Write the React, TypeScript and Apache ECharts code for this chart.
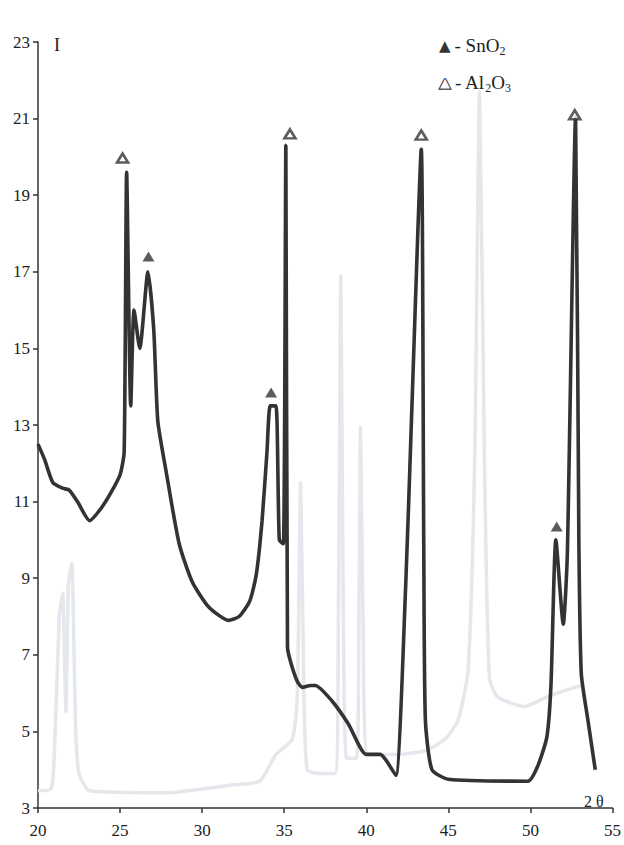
import React, { useEffect, useRef } from "react";
import * as echarts from "echarts";

// 2θ (degrees) and intensity I for the measured XRD pattern
const mainTwoTheta = [
  20.0, 20.4, 20.9, 21.5, 21.9, 22.4, 23.15, 23.8, 24.4, 25.0, 25.25, 25.4, 25.65, 25.85, 26.2, 26.7,
  27.05, 27.3, 27.8, 28.6, 29.4, 30.4, 31.6, 32.25, 32.9, 33.3, 33.65, 33.95, 34.15, 34.5, 34.7, 34.95,
  35.1, 35.2, 35.4, 35.8, 36.1, 36.6, 36.9, 37.9, 38.9, 40.0, 40.85, 41.2, 41.8, 42.4, 42.75, 43.35,
  43.5, 43.6, 44.0, 45.0, 49.85, 50.45, 51.0, 51.25, 51.55, 52.0, 52.25, 52.75, 52.95, 53.1, 53.5, 53.95,
];
const mainIntensity = [
  12.5, 12.1, 11.5, 11.35, 11.3, 11.0, 10.5, 10.8, 11.2, 11.7, 12.3, 19.6, 13.5, 16.0, 15.0, 17.0,
  15.5, 13.1, 11.8, 9.9, 8.9, 8.25, 7.9, 8.0, 8.4, 9.1, 10.5, 12.3, 13.5, 13.5, 10.0, 9.9,
  20.3, 7.2, 6.8, 6.3, 6.15, 6.2, 6.2, 5.8, 5.2, 4.4, 4.4, 4.25, 3.85, 8.8, 13.1, 20.2,
  10.0, 5.3, 4.0, 3.75, 3.7, 4.1, 4.85, 6.2, 10.0, 7.8, 9.65, 21.05, 10.0, 6.5, 5.3, 4.0,
];

// faint show-through pattern from the reverse side of the scanned page
const ghostTwoTheta = [
  20.0, 20.8, 21.0, 21.3, 21.5, 21.7, 21.85, 22.05, 22.3, 22.5, 23.15, 27.8, 31.8, 33.5, 34.5, 35.5,
  35.8, 36.0, 36.2, 36.4, 37.1, 38.1, 38.3, 38.45, 38.6, 38.8, 39.4, 39.55, 39.65, 39.8, 40.1, 42.0,
  43.6, 44.8, 45.6, 46.2, 46.6, 46.9, 47.2, 47.5, 48.0, 49.65, 51.0, 52.7, 53.2,
];
const ghostIntensity = [
  3.45, 3.5, 4.5, 8.0, 8.6, 5.5, 8.8, 9.4, 5.0, 3.9, 3.45, 3.4, 3.6, 3.7, 4.4, 4.8,
  6.0, 11.5, 6.0, 4.0, 3.9, 3.9, 8.0, 16.9, 8.0, 4.3, 4.3, 8.0, 12.95, 8.0, 4.4, 4.4,
  4.5, 4.8, 5.3, 6.6, 12.0, 21.7, 12.0, 6.4, 5.9, 5.65, 5.9, 6.15, 6.2,
];

// phase markers
const snO2TwoTheta = [26.73, 34.2, 51.6];
const snO2Intensity = [17.4, 13.85, 10.35];
const al2O3TwoTheta = [25.15, 35.35, 43.35, 52.7];
const al2O3Intensity = [19.97, 20.6, 20.57, 21.1];

const yTicks = [3, 5, 7, 9, 11, 13, 15, 17, 19, 21, 23];
const xTicks = [20, 25, 30, 35, 40, 45, 50, 55];

const FONT = "'Liberation Serif', 'Times New Roman', serif";
const INK = "#333333";

const zip = (a: number[], b: number[]) => a.map((v, i) => [v, b[i]]);

export default function App() {
  const ref = useRef<HTMLDivElement>(null);
  useEffect(() => {
    document.body.style.margin = "0";
    const chart = echarts.init(ref.current!, undefined, { renderer: "svg" });
    const legendRich = {
      tri: { fontSize: 15, fill: INK, fontFamily: "DejaVu Sans", padding: [0, 4, 0, 0] },
      hol: {
        fontSize: 13,
        fill: "#ffffff",
        stroke: INK,
        lineWidth: 2.2,
        fontFamily: "DejaVu Sans",
        padding: [0, 5, 0, 1],
      },
      txt: { fontSize: 19, fill: "#222", fontFamily: FONT },
      sub: { fontSize: 12, fill: "#222", fontFamily: FONT, padding: [11, 0, 0, 0] },
    };
    chart.setOption({
      animation: false,
      backgroundColor: "#ffffff",
      grid: { left: 38, right: 9, top: 42, bottom: 37, containLabel: false },
      xAxis: {
        type: "value",
        min: xTicks[0],
        max: xTicks[xTicks.length - 1],
        interval: 5,
        splitLine: { show: false },
        axisLine: { lineStyle: { color: INK, width: 1.5 } },
        axisTick: { show: true, length: 5, lineStyle: { color: INK, width: 1.5 } },
        axisLabel: { color: "#222", fontFamily: FONT, fontSize: 17, margin: 14 },
      },
      yAxis: {
        type: "value",
        min: yTicks[0],
        max: yTicks[yTicks.length - 1],
        interval: 2,
        splitLine: { show: false },
        axisLine: { show: true, lineStyle: { color: INK, width: 1.5 } },
        axisTick: { show: true, length: 5, lineStyle: { color: INK, width: 1.5 } },
        axisLabel: { color: "#222", fontFamily: FONT, fontSize: 17, margin: 8 },
      },
      graphic: [
        {
          type: "text",
          left: 54,
          top: 36,
          style: { text: "I", fontSize: 18, fontFamily: FONT, fill: "#222" },
        },
        {
          type: "text",
          left: 584,
          top: 793,
          style: { text: "2 θ", fontSize: 16, fontFamily: FONT, fill: "#222" },
        },
        {
          type: "text",
          left: 439,
          top: 36,
          style: {
            text: "{tri|▲}{txt|- SnO}{sub|2}",
            rich: legendRich,
          },
        },
        {
          type: "text",
          left: 439,
          top: 73,
          style: {
            text: "{hol|▲}{txt|- Al}{sub|2}{txt|O}{sub|3}",
            rich: legendRich,
          },
        },
      ],
      series: [
        {
          name: "reverse side (show-through)",
          type: "line",
          data: zip(ghostTwoTheta, ghostIntensity),
          showSymbol: false,
          smooth: 0.2,
          lineStyle: { color: "#e4e7eb", width: 3.5 },
          z: 1,
          silent: true,
        },
        {
          name: "XRD pattern",
          type: "line",
          data: zip(mainTwoTheta, mainIntensity),
          showSymbol: false,
          smooth: 0.2,
          lineStyle: { color: INK, width: 3.6 },
          z: 3,
        },
        {
          name: "SnO2",
          type: "scatter",
          data: zip(snO2TwoTheta, snO2Intensity),
          symbol: "triangle",
          symbolSize: [12, 10],
          itemStyle: { color: INK },
          z: 4,
        },
        {
          name: "Al2O3",
          type: "scatter",
          data: zip(al2O3TwoTheta, al2O3Intensity),
          symbol: "triangle",
          symbolSize: [11, 9],
          itemStyle: { color: "#ffffff", borderColor: INK, borderWidth: 2.6 },
          z: 4,
        },
      ],
    });
    return () => chart.dispose();
  }, []);
  return <div ref={ref} style={{ width: 624, height: 845 }} />;
}
